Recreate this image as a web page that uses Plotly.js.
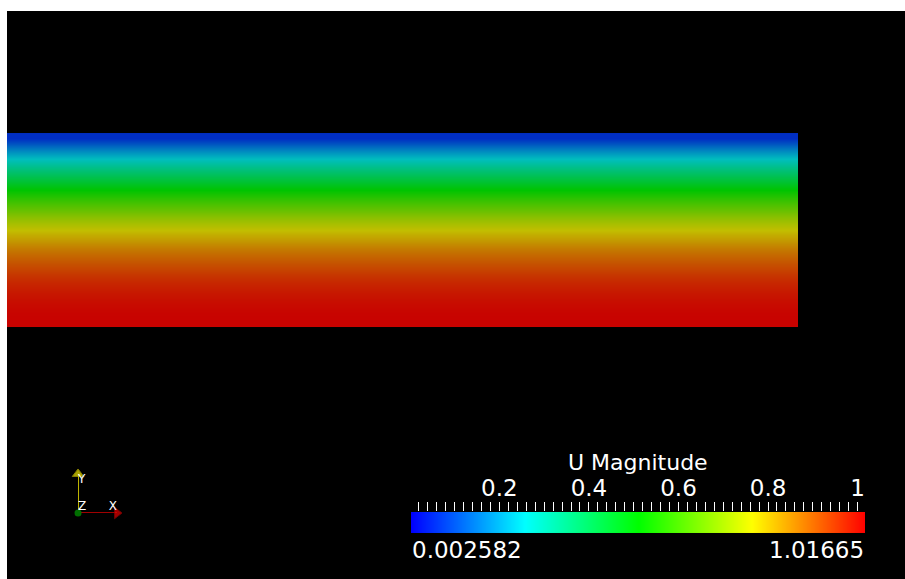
<!DOCTYPE html>
<html>
<head>
<meta charset="utf-8">
<script src="https://cdn.plot.ly/plotly-3.0.1.min.js"></script>
<style>html,body{margin:0;padding:0;background:#fff;}#chart{width:905px;height:579px;}</style>
</head>
<body>
<div id="chart"></div>
<script>
// ---- data ----
// channel height stations (0 = bottom / symmetry plane, 1 = top wall), cell edges
const heightEdges = [0,0.05,0.1,0.15,0.2,0.25,0.3,0.35,0.4,0.45,0.5,0.55,0.6,0.65,0.7,0.75,0.8,0.85,0.9,0.95,1];
// U magnitude in each height cell (bottom to top)
const uMagnitude = [1.0140,1.0109,1.0008,0.9856,0.9653,0.9400,0.9095,0.8741,0.8335,0.7879,
                    0.7372,0.6814,0.6205,0.5546,0.4836,0.4076,0.3265,0.2403,0.1490,0.0527];
// streamwise extent of the visible part of the channel
const channelX = [0, 0.5, 1];
// colour legend
const legendTitle = 'U Magnitude';
const legendMin = 0.002582;
const legendMax = 1.01665;
const legendMinLabel = '0.002582';
const legendMaxLabel = '1.01665';
const legendTicks = [0.2, 0.4, 0.6, 0.8, 1];
const legendTickText = ['0.2', '0.4', '0.6', '0.8', '1'];
// orientation triad
const triadNames = ['X', 'Y', 'Z'];

// ---- styles ----
const FONT = 'DejaVu Sans';
const rainbow = [[0,'rgb(0,0,255)'],[0.25,'rgb(0,255,255)'],[0.5,'rgb(0,255,0)'],[0.75,'rgb(255,255,0)'],[1,'rgb(255,0,0)']];
const shaded = [[0,'rgb(0,10,196)'],[0.25,'rgb(0,190,190)'],[0.5,'rgb(0,196,0)'],[0.75,'rgb(194,190,0)'],[1,'rgb(200,0,0)']];

const traces = [];
// channel field
traces.push({
  type: 'heatmap',
  x: channelX,
  y: heightEdges,
  z: uMagnitude.map(v => channelX.slice(0, channelX.length - 1).map(() => v)),
  zmin: legendMin, zmax: legendMax,
  colorscale: shaded, zsmooth: 'best', showscale: false,
  xaxis: 'x', yaxis: 'y', hoverinfo: 'skip'
});
// colour legend bar
traces.push({
  type: 'heatmap',
  x: [legendMin, legendMax],
  y: [0, 1],
  z: [[legendMin, legendMax],[legendMin, legendMax]],
  zmin: legendMin, zmax: legendMax,
  colorscale: rainbow, zsmooth: 'best', showscale: false,
  xaxis: 'x2', yaxis: 'y2', hoverinfo: 'skip'
});
// triad: X axis (red), Y axis (yellow), Z (green dot, toward viewer)
traces.push({
  type: 'scatter', mode: 'lines+markers', x: [0, 1], y: [0, 0],
  line: {color: 'rgb(160,0,0)', width: 2},
  marker: {symbol: ['circle', 'triangle-right'], size: [0, 10], color: 'rgb(230,0,0)'},
  xaxis: 'x4', yaxis: 'y4', cliponaxis: false, hoverinfo: 'skip'
});
traces.push({
  type: 'scatter', mode: 'lines+markers', x: [0, 0], y: [0, 1],
  line: {color: 'rgb(190,180,0)', width: 2},
  marker: {symbol: ['circle', 'triangle-up'], size: [0, 10], color: 'rgb(240,230,0)'},
  xaxis: 'x4', yaxis: 'y4', cliponaxis: false, hoverinfo: 'skip'
});
traces.push({
  type: 'scatter', mode: 'markers', x: [0], y: [0],
  marker: {symbol: 'circle', size: 7, color: 'rgb(0,110,0)'},
  xaxis: 'x4', yaxis: 'y4', cliponaxis: false, hoverinfo: 'skip'
});
traces.push({
  type: 'scatter', mode: 'text', x: [1, 0, 0], y: [0, 1, 0],
  text: triadNames,
  textposition: ['top left', 'bottom right', 'top right'],
  textfont: {family: FONT, size: 12, color: '#ffffff'},
  xaxis: 'x4', yaxis: 'y4', cliponaxis: false, hoverinfo: 'skip'
});

const hidden = {visible: false, fixedrange: true};
const layout = {
  width: 905, height: 579,
  margin: {l: 7, r: 0, t: 11, b: 0, pad: 0},
  paper_bgcolor: '#ffffff', plot_bgcolor: '#000000',
  showlegend: false,
  xaxis: Object.assign({domain: [0, 1], range: [0, 1.1353]}, hidden),
  yaxis: Object.assign({domain: [0, 1], range: [-1.299, 1.629]}, hidden),
  xaxis2: {
    domain: [0.4499, 0.9555], anchor: 'y2', range: [legendMin, legendMax], side: 'top',
    tickvals: legendTicks, ticktext: legendTickText,
    ticks: 'outside', ticklen: 9, tickwidth: 1, tickcolor: '#ffffff',
    ticklabelstandoff: -3,
    minor: {dtick: 0.02, tick0: 0, ticks: 'outside', ticklen: 9, tickwidth: 1, tickcolor: '#ffffff', showgrid: false},
    tickfont: {family: FONT, size: 23, color: '#ffffff'},
    showgrid: false, zeroline: false, showline: false, fixedrange: true
  },
  yaxis2: Object.assign({domain: [0.081, 0.118], anchor: 'x2', range: [0, 1]}, hidden),
  xaxis3: {
    domain: [0.4499, 0.9555], anchor: 'y2', overlaying: 'x2', range: [legendMin, legendMax], side: 'top',
    tickvals: legendTicks, ticks: 'inside', ticklen: 9, tickwidth: 1, tickcolor: '#ffffff',
    showticklabels: false, showgrid: false, zeroline: false, showline: false, fixedrange: true
  },
  xaxis4: Object.assign({domain: [0.0791, 0.1225], anchor: 'y4', range: [0, 1]}, hidden),
  yaxis4: Object.assign({domain: [0.1162, 0.1849], anchor: 'x4', range: [0, 1]}, hidden),
  annotations: [
    {text: legendTitle, xref: 'x2 domain', yref: 'paper', x: 0.5, y: 0.2045, xanchor: 'center', yanchor: 'middle',
     showarrow: false, borderpad: 0, font: {family: FONT, size: 22, color: '#ffffff'}},
    {text: legendMinLabel, xref: 'x2 domain', yref: 'paper', x: 0, y: 0.051, xanchor: 'left', yanchor: 'middle',
     showarrow: false, borderpad: 0, font: {family: FONT, size: 23, color: '#ffffff'}},
    {text: legendMaxLabel, xref: 'x2 domain', yref: 'paper', x: 1, y: 0.051, xanchor: 'right', yanchor: 'middle',
     showarrow: false, borderpad: 0, font: {family: FONT, size: 23, color: '#ffffff'}}
  ]
};
Plotly.newPlot('chart', traces, layout, {staticPlot: true, displayModeBar: false});
</script>
</body>
</html>
